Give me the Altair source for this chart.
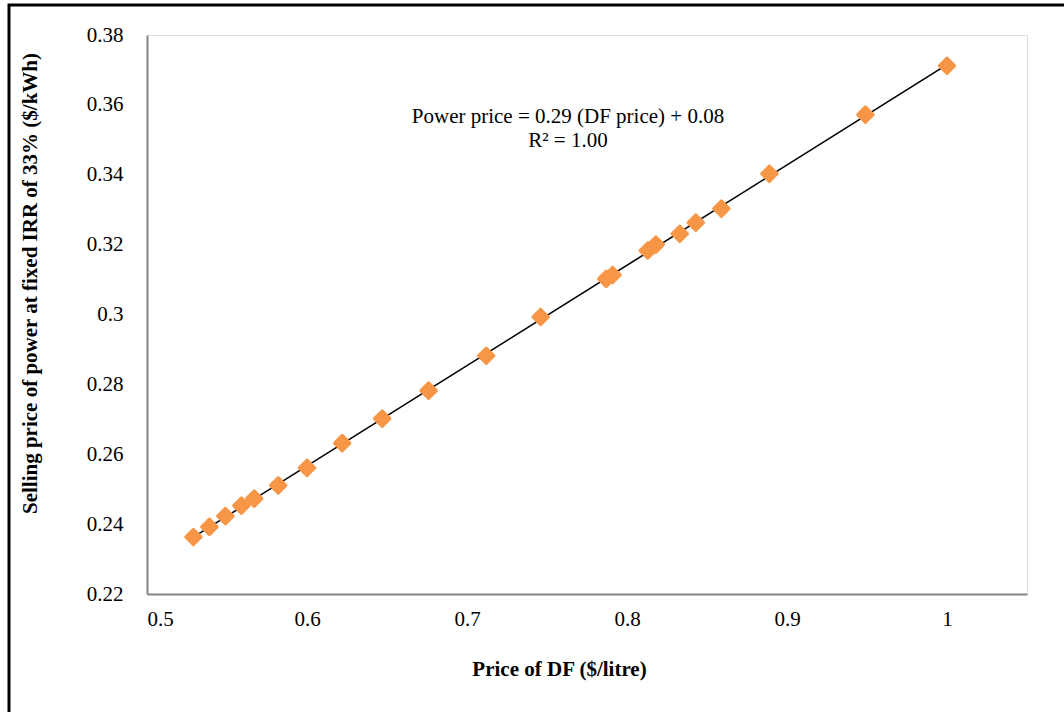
import altair as alt
import pandas as pd

df_price = [0.529, 0.539, 0.549, 0.559, 0.567, 0.582, 0.600, 0.622, 0.647, 0.676, 0.712,
            0.746, 0.787, 0.791, 0.813, 0.818, 0.833, 0.843, 0.859, 0.889, 0.949, 1.0]
power_price = [0.2363, 0.2392, 0.2423, 0.2453, 0.2473, 0.2511, 0.2561, 0.2632, 0.2702, 0.2782,
               0.2882, 0.2993, 0.3102, 0.3113, 0.3183, 0.3200, 0.3231, 0.3263, 0.3303, 0.3403,
               0.3572, 0.3712]
x_ticks = [0.5, 0.6, 0.7, 0.8, 0.9, 1.0]
y_ticks = [0.22, 0.24, 0.26, 0.28, 0.30, 0.32, 0.34, 0.36, 0.38]
eq_lines = ["Power price = 0.29 (DF price) + 0.08", "R² = 1.00"]

data = pd.DataFrame({"x": df_price, "y": power_price})
FONT = "Liberation Serif"
FS = 21

x_enc = alt.X("x:Q", scale=alt.Scale(domain=[0.5, 1.05], nice=False, zero=False),
              axis=alt.Axis(title="Price of DF ($/litre)", values=x_ticks, labelExpr="format(datum.value, '~g')",
                            grid=False, ticks=False, domainColor="#868686", domainWidth=2,
                            labelFont=FONT, labelFontSize=FS, labelColor="#000", labelPadding=14,
                            titleFont=FONT, titleFontSize=FS, titleFontWeight="bold", titleColor="#000",
                            titlePadding=29, titleX=412))
y_enc = alt.Y("y:Q", scale=alt.Scale(domain=[0.22, 0.38], nice=False, zero=False),
              axis=alt.Axis(title="Selling price of power  at fixed IRR of 33% ($/kWh)", values=y_ticks,
                            labelExpr="format(datum.value, '~g')",
                            grid=False, ticks=False, domainColor="#868686", domainWidth=2,
                            labelFont=FONT, labelFontSize=FS, labelColor="#000", labelPadding=24,
                            titleFont=FONT, titleFontSize=FS, titleFontWeight="bold", titleColor="#000",
                            titlePadding=46, titleY=248))

base = alt.Chart(data)

points = base.mark_point(shape="diamond", filled=True, size=240, color="#F79646",
                         stroke="#F79646", strokeWidth=3, strokeJoin="round", opacity=1).encode(x=x_enc, y=y_enc)

trend = base.transform_regression("x", "y").mark_line(color="#000000", strokeWidth=1.6).encode(x="x:Q", y="y:Q")

eq = alt.Chart(pd.DataFrame({"t": [eq_lines]})).mark_text(
    font=FONT, fontSize=FS, color="#000", align="center", baseline="top", lineHeight=24
).encode(x=alt.value(421), y=alt.value(71), text="t:N")

frame = alt.Chart(pd.DataFrame({"a": [0]})).mark_rect(
    fill=None, stroke="#000", strokeWidth=3, clip=False
).encode(x=alt.value(-138), x2=alt.value(1060), y=alt.value(-30), y2=alt.value(700))

chart = alt.layer(frame, trend, points, eq).properties(
    width=880, height=559,
    padding={"left": 147, "top": 35, "right": 37, "bottom": 118},
    autosize=alt.AutoSizeParams(type="none"),
).configure_view(stroke=None).configure(background="white")

chart.save("out.html", embed_options={"renderer": "svg", "actions": False})
